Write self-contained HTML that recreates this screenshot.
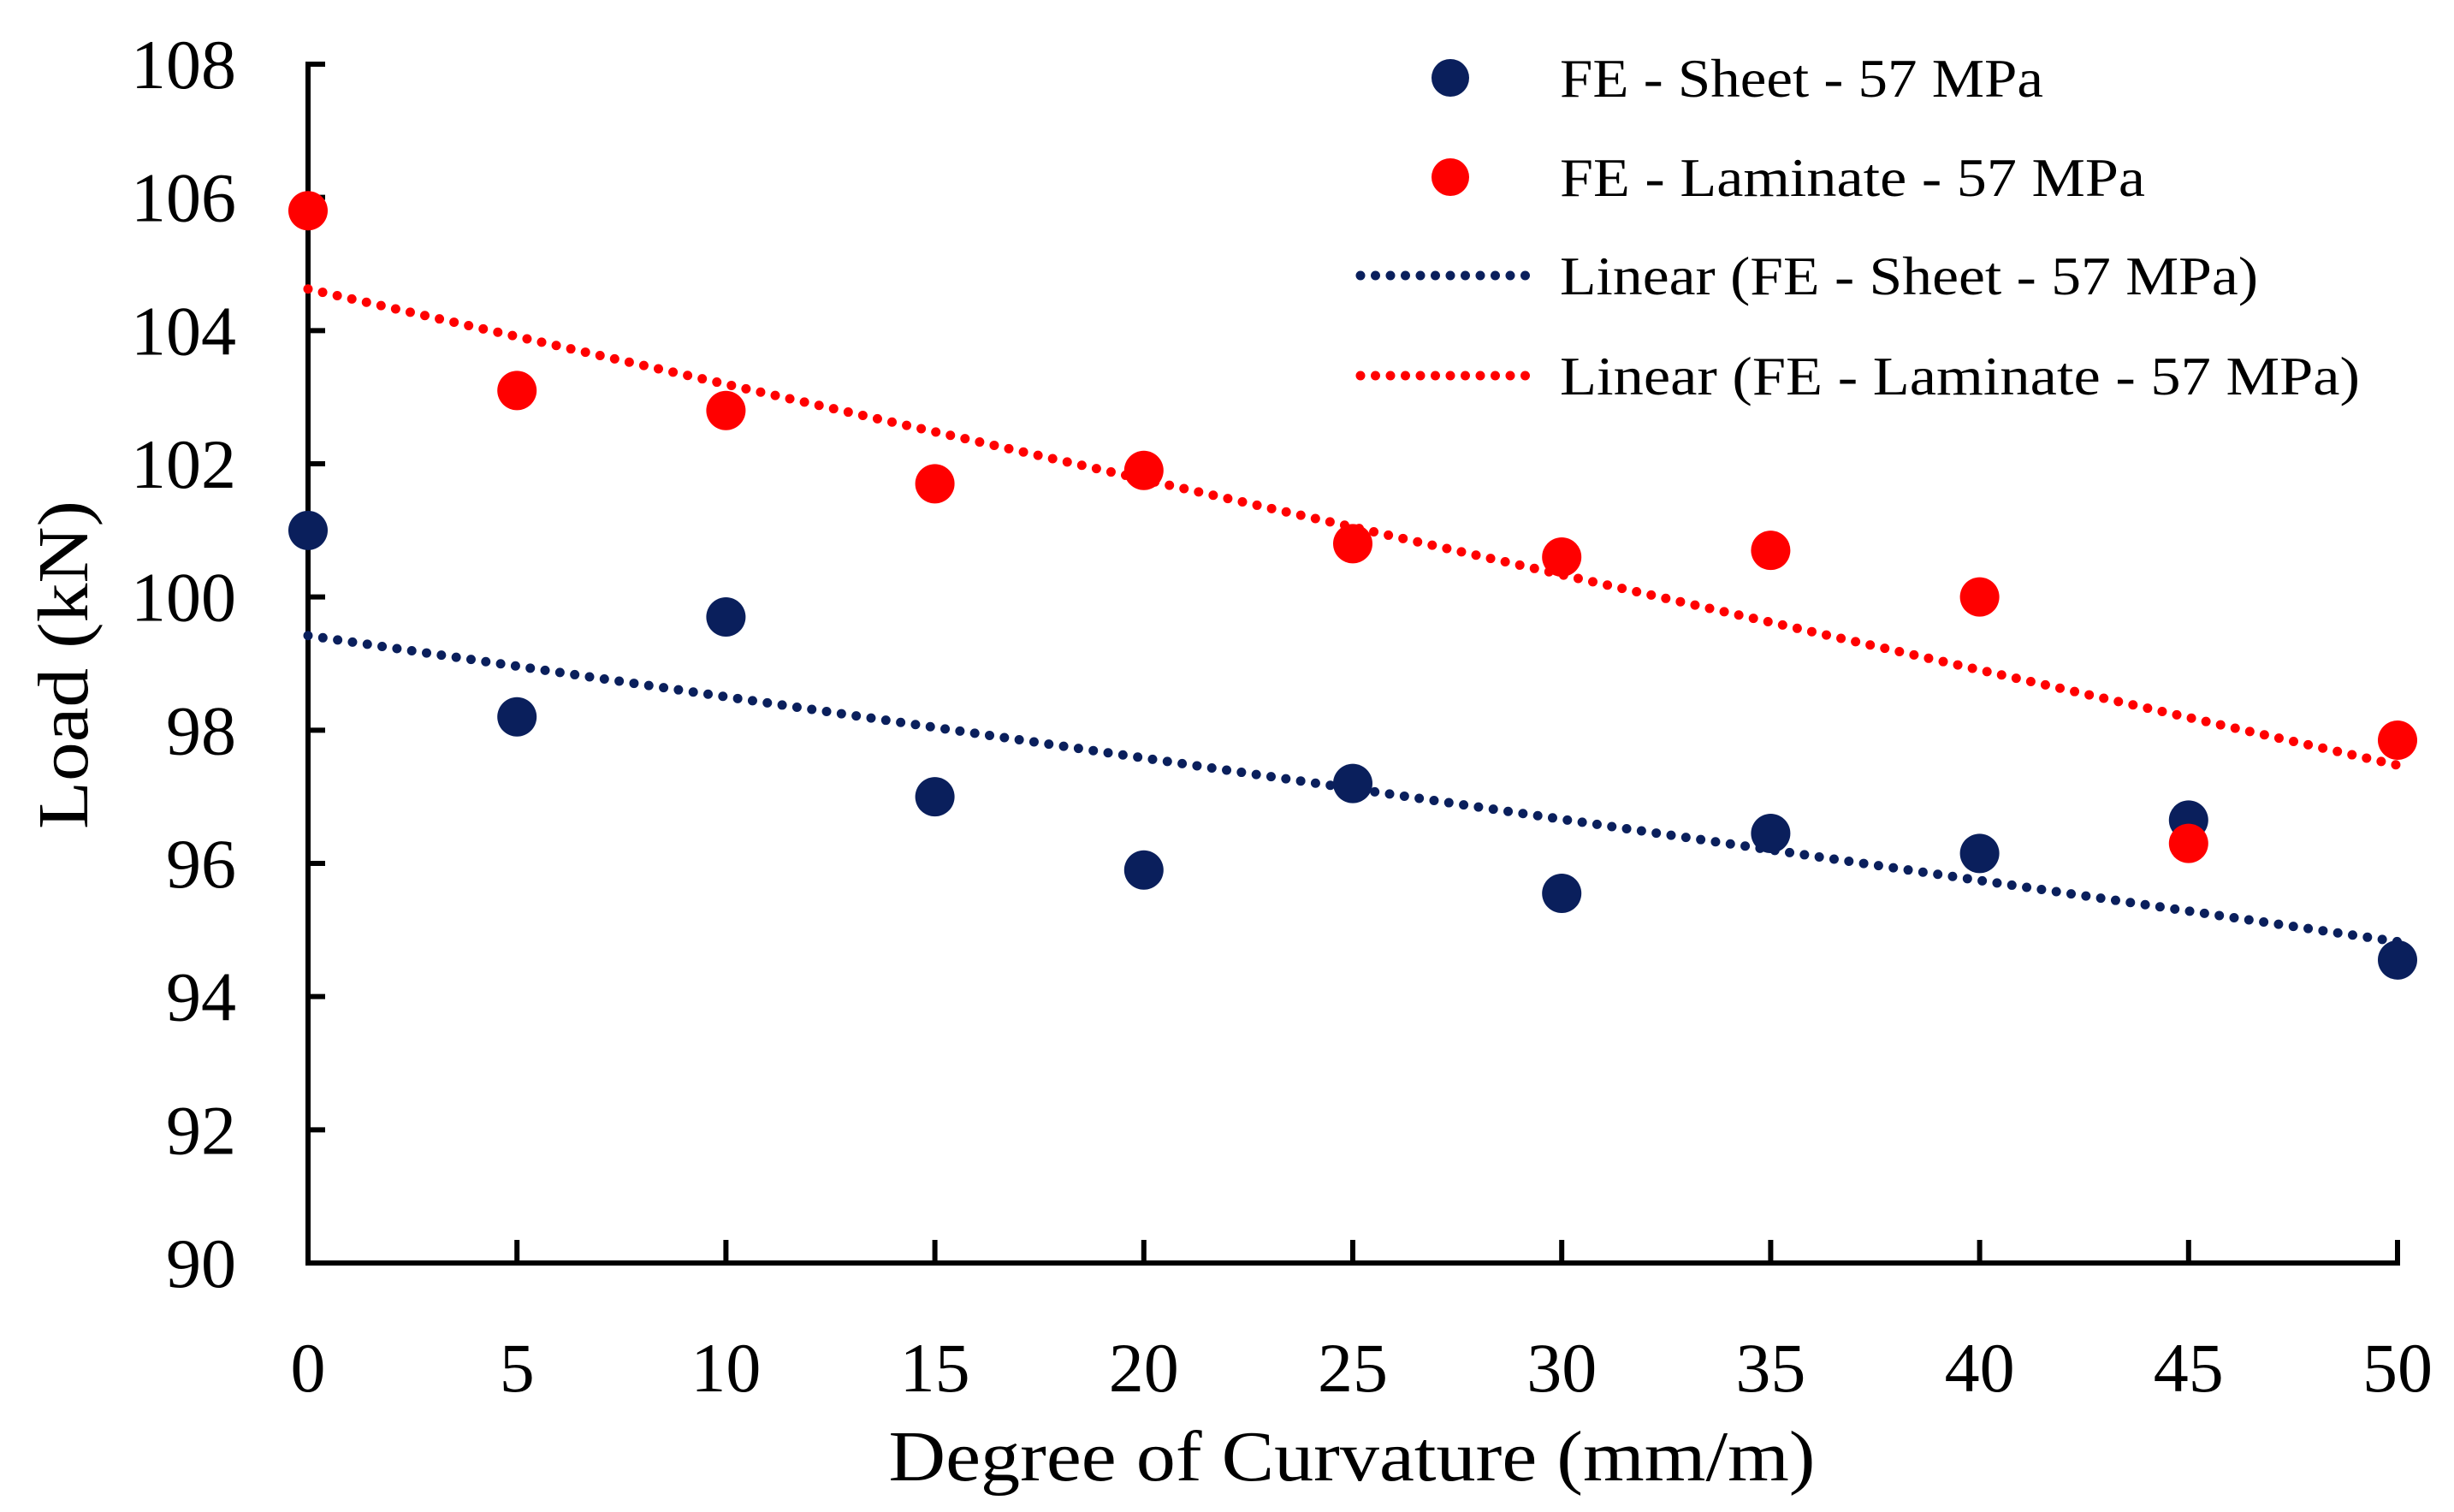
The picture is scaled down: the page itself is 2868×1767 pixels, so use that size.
<!DOCTYPE html>
<html><head><meta charset="utf-8"><style>
html,body{margin:0;padding:0;background:#fff;}
svg{display:block;font-family:"Liberation Serif",serif;}
</style></head><body>
<svg id="chart" width="2868" height="1767" viewBox="0 0 2868 1767" xmlns="http://www.w3.org/2000/svg">
<rect width="2868" height="1767" fill="#fff"/>
<g id="axes"></g>
<g id="series"></g>
<g id="legend">
  <circle cx="1695" cy="91" r="22" fill="#0a1f5c"/>
  <text x="1823" y="113" font-size="64" textLength="565" lengthAdjust="spacingAndGlyphs">FE - Sheet - 57 MPa</text>
  <circle cx="1695" cy="207" r="22" fill="#ff0000"/>
  <text x="1823" y="229" font-size="64" textLength="684" lengthAdjust="spacingAndGlyphs">FE - Laminate - 57 MPa</text>
  <line x1="1590" y1="322" x2="1800" y2="322" stroke="#0a1f5c" stroke-width="11" stroke-linecap="round" stroke-dasharray="0 17.5"/>
  <text x="1823" y="344" font-size="64" textLength="816" lengthAdjust="spacingAndGlyphs">Linear (FE - Sheet - 57 MPa)</text>
  <line x1="1590" y1="439" x2="1800" y2="439" stroke="#ff0000" stroke-width="11" stroke-linecap="round" stroke-dasharray="0 17.5"/>
  <text x="1823" y="461" font-size="64" textLength="935" lengthAdjust="spacingAndGlyphs">Linear (FE - Laminate - 57 MPa)</text>
</g>
<text transform="translate(102,777) rotate(-90)" text-anchor="middle" font-size="84" textLength="384" lengthAdjust="spacingAndGlyphs">Load (kN)</text>
<text x="1580" y="1730" text-anchor="middle" font-size="84" textLength="1083" lengthAdjust="spacingAndGlyphs">Degree of Curvature (mm/m)</text>
</svg>
<script>
const xCategories = [0,5,10,15,20,25,30,35,40,45,50];
const sheetValues = [101.0,98.2,99.7,97.0,95.9,97.2,95.55,96.45,96.15,96.65,94.55];
const laminateValues = [105.8,103.1,102.8,101.7,101.9,100.8,100.6,100.7,100.0,96.3,97.85];
const xTicks = [0,5,10,15,20,25,30,35,40,45,50];
const yTicks = [90,92,94,96,98,100,102,104,106,108];

const X0=360, X1=2802, Y0=1476, Y1=75;
const xMin=0,xMax=50,yMin=90,yMax=108;
function sx(v){return X0+(v-xMin)/(xMax-xMin)*(X1-X0);}
function sy(v){return Y0-(v-yMin)/(yMax-yMin)*(Y0-Y1);}
const NS="http://www.w3.org/2000/svg";
function mk(tag,attrs,parent){const e=document.createElementNS(NS,tag);for(const k in attrs)e.setAttribute(k,attrs[k]);parent.appendChild(e);return e;}
const axes=document.getElementById('axes');
const ser=document.getElementById('series');

let a=mk('line',{x1:X0,y1:Y1-3,x2:X0,y2:Y0+3,stroke:'#000','stroke-width':6},axes);


a=mk('line',{x1:X0-3,y1:Y0,x2:X1+3,y2:Y0,stroke:'#000','stroke-width':6},axes);



yTicks.forEach(v=>{
  const y=sy(v);
  const t=mk('line',{x1:X0,y1:y,x2:X0+20,y2:y,stroke:'#000','stroke-width':6},axes);
  
  
  const l=mk('text',{x:276,y:y+28,'text-anchor':'end','font-size':82},axes);
  l.textContent=v;
  
  
});
xTicks.forEach(v=>{
  const x=sx(v);
  const t=mk('line',{x1:x,y1:Y0,x2:x,y2:Y0-27,stroke:'#000','stroke-width':6},axes);
  
  
  const l=mk('text',{x:x,y:1626,'text-anchor':'middle','font-size':82},axes);
  l.textContent=v;
  
  
});

function fit(xs,ys){const n=xs.length;let mx=0,my=0;for(let i=0;i<n;i++){mx+=xs[i];my+=ys[i];}mx/=n;my/=n;let num=0,den=0;for(let i=0;i<n;i++){num+=(xs[i]-mx)*(ys[i]-my);den+=(xs[i]-mx)**2;}const b=num/den;return [my-b*mx,b];}
function trend(vals,color,name){
  const [a0,b]=fit(xCategories,vals);
  const l=mk('line',{x1:sx(xMin),y1:sy(a0+b*xMin),x2:sx(xMax),y2:sy(a0+b*xMax),stroke:color,'stroke-width':11,'stroke-linecap':'round','stroke-dasharray':'0 17.5'},ser);
  
  
}
function points(vals,color,name){
  vals.forEach((v,i)=>{
    const c=mk('circle',{cx:sx(xCategories[i]),cy:sy(v),r:23,fill:color},ser);
    
    
  });
}
trend(sheetValues,'#0a1f5c','sheet-trend-line');
trend(laminateValues,'#ff0000','laminate-trend-line');
points(sheetValues,'#0a1f5c','sheet-point');
points(laminateValues,'#ff0000','laminate-point');
</script>
</body></html>
